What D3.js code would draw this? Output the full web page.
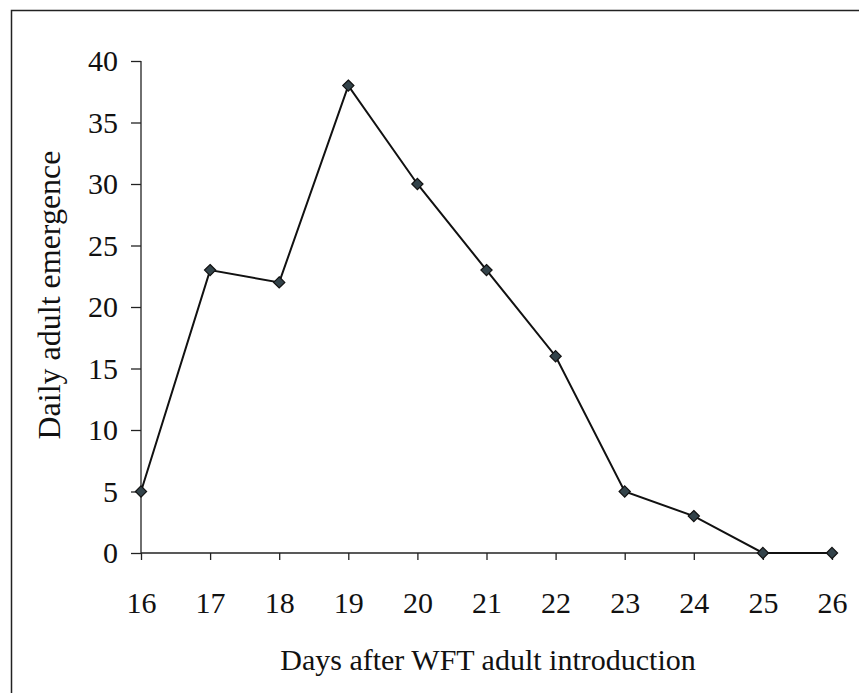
<!DOCTYPE html>
<html>
<head>
<meta charset="utf-8">
<script src="https://cdn.jsdelivr.net/npm/d3@7"></script>
<style>
  html, body { margin: 0; padding: 0; background: #fff; }
  svg { display: block; }
  text { font-family: "Liberation Serif", "Times New Roman", serif; fill: #111; }
</style>
</head>
<body>
<svg id="chart" width="859" height="693"></svg>
<script>
// Daily emergence of WFT adults by day after adult introduction
const days = [16, 17, 18, 19, 20, 21, 22, 23, 24, 25, 26];
const emergence = [5, 23, 22, 38, 30, 23, 16, 5, 3, 0, 0];
const yTicks = [0, 5, 10, 15, 20, 25, 30, 35, 40];

const svg = d3.select("#chart");
const W = 859, H = 693;

// outer frame
svg.append("rect")
  .attr("x", 11.5).attr("y", 10.5)
  .attr("width", W + 20).attr("height", H + 20)
  .attr("fill", "none").attr("stroke", "#222").attr("stroke-width", 1.5);

const x = d3.scaleLinear().domain([16, 26]).range([141, 832]);
const y = d3.scaleLinear().domain([0, 40]).range([553, 61]);

// y axis
const yAxis = svg.append("g")
  .attr("transform", "translate(141,0)")
  .call(d3.axisLeft(y).tickValues(yTicks).tickSize(10).tickPadding(13).tickFormat(d3.format("d")));
yAxis.selectAll("path, line").attr("stroke", "#222").attr("stroke-width", 1.3);
yAxis.select(".domain").attr("d", `M0,${y(40)}V${y(0)}`);
yAxis.selectAll("text").attr("font-size", 30).attr("font-family", "Liberation Serif").attr("fill", "#111");

// x axis
const xAxis = svg.append("g")
  .attr("transform", "translate(0,553)")
  .call(d3.axisBottom(x).tickValues(days).tickSize(7).tickPadding(32).tickFormat(d3.format("d")));
xAxis.selectAll("path, line").attr("stroke", "#222").attr("stroke-width", 1.3);
xAxis.select(".domain").attr("d", `M${x(16)},0H${x(26)}`);
xAxis.selectAll("text").attr("font-size", 30).attr("font-family", "Liberation Serif").attr("fill", "#111");

// series line
const line = d3.line().x((d, i) => x(days[i])).y(d => y(d));
svg.append("path")
  .datum(emergence)
  .attr("d", line)
  .attr("fill", "none")
  .attr("stroke", "#111")
  .attr("stroke-width", 2);

// diamond markers
svg.append("g").selectAll("path")
  .data(emergence)
  .join("path")
  .attr("d", d3.symbol().type(d3.symbolDiamond2).size(80))
  .attr("transform", (d, i) => `translate(${x(days[i])},${y(d)})`)
  .attr("fill", "#33434a")
  .attr("stroke", "#111")
  .attr("stroke-width", 1.2);

// axis titles
svg.append("text")
  .attr("x", 488).attr("y", 670)
  .attr("text-anchor", "middle")
  .attr("font-size", 30)
  .text("Days after WFT adult introduction");

svg.append("text")
  .attr("transform", "translate(60,295) rotate(-90)")
  .attr("text-anchor", "middle")
  .attr("font-size", 32)
  .text("Daily adult emergence");
</script>
</body>
</html>
